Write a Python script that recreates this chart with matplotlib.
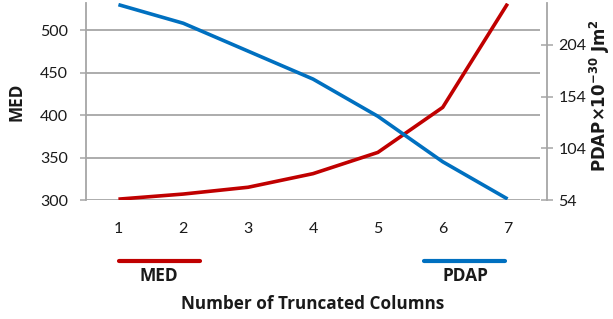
import matplotlib
matplotlib.use("Agg")
import matplotlib.pyplot as plt
from matplotlib.lines import Line2D

plt.rcParams['font.family'] = ['Lato', 'DejaVu Sans']
plt.rcParams['mathtext.fontset'] = 'custom'
plt.rcParams['mathtext.rm'] = 'Liberation Sans Narrow'
plt.rcParams['mathtext.bf'] = 'Liberation Sans Narrow:bold'

BOLD = ['Open Sans', 'DejaVu Sans']

columns = [1, 2, 3, 4, 5, 6, 7]
med = [301, 307, 315, 331, 356, 409, 531]
pdap = [243, 225, 198, 171, 135, 91, 55]
med_ticks = [300, 350, 400, 450, 500]
pdap_ticks = [54, 104, 154, 204]

RED = '#C00000'
BLUE = '#0070C0'
GRID = '#A6A6A6'
TXT = '#1a1a1a'

fig = plt.figure(figsize=(6.13, 3.19), dpi=100)
ax = fig.add_axes([86/613, 1 - 200/319, 454/613, 197/319])
ax2 = ax.twinx()

ax.plot(columns, med, color=RED, lw=2.6, solid_capstyle='butt', zorder=3)
ax2.plot(columns, pdap, color=BLUE, lw=2.6, solid_capstyle='butt', zorder=3)

ax.set_xlim(0.5, 7.5)
ax.set_ylim(300, 531.8)
ax2.set_ylim(54, 244.6)

ax.set_yticks(med_ticks)
ax2.set_yticks(pdap_ticks)
ax.set_xticks(columns)

ax.yaxis.grid(True, color=GRID, lw=1.3)
ax.set_axisbelow(True)

for a in (ax, ax2):
    a.spines['top'].set_visible(False)
    a.spines['bottom'].set_visible(False)
ax.spines['right'].set_visible(False)
ax2.spines['left'].set_visible(False)
ax.spines['left'].set_color(GRID)
ax.spines['left'].set_linewidth(1.3)
ax2.spines['right'].set_color(GRID)
ax2.spines['right'].set_linewidth(1.3)
ax2.spines['right'].set_position(('outward', 5))

ax.tick_params(axis='y', direction='out', length=4.3, width=1.1, color=GRID,
               pad=8.5, labelsize=11.5, labelcolor=TXT)
ax.tick_params(axis='x', length=0, pad=16, labelsize=11.5, labelcolor=TXT)
ax2.tick_params(axis='y', direction='inout', length=8.6, width=1.1, color=GRID,
                pad=4, labelsize=11.5, labelcolor=TXT)

ax.set_ylabel('MED', fontsize=12.3, fontweight='bold', color=TXT, family=BOLD)
ax.yaxis.set_label_coords(-0.134, 0.5)
ax2.set_ylabel(r'$\mathbf{PDAP{\times}10^{-30}\ Jm^{2}}$', fontsize=12,
               color=TXT)
ax2.yaxis.set_label_coords(1.105, 0.53)

fig.text(313/613, 1 - 304/319, 'Number of Truncated Columns', fontsize=12.3,
         fontweight='bold', ha='center', va='center', color=TXT, family=BOLD)

# legend
fig.add_artist(Line2D([119/613, 200/613], [1 - 261/319, 1 - 261/319],
                      color=RED, lw=3, solid_capstyle='round'))
fig.add_artist(Line2D([424/613, 505/613], [1 - 261/319, 1 - 261/319],
                      color=BLUE, lw=3, solid_capstyle='round'))
fig.text(159/613, 1 - 276/319, 'MED', fontsize=12.5, fontweight='bold',
         ha='center', va='center', color=TXT, family=BOLD)
fig.text(465/613, 1 - 276/319, 'PDAP', fontsize=12.5, fontweight='bold',
         ha='center', va='center', color=TXT, family=BOLD)

fig.savefig('out.png', dpi=100)
